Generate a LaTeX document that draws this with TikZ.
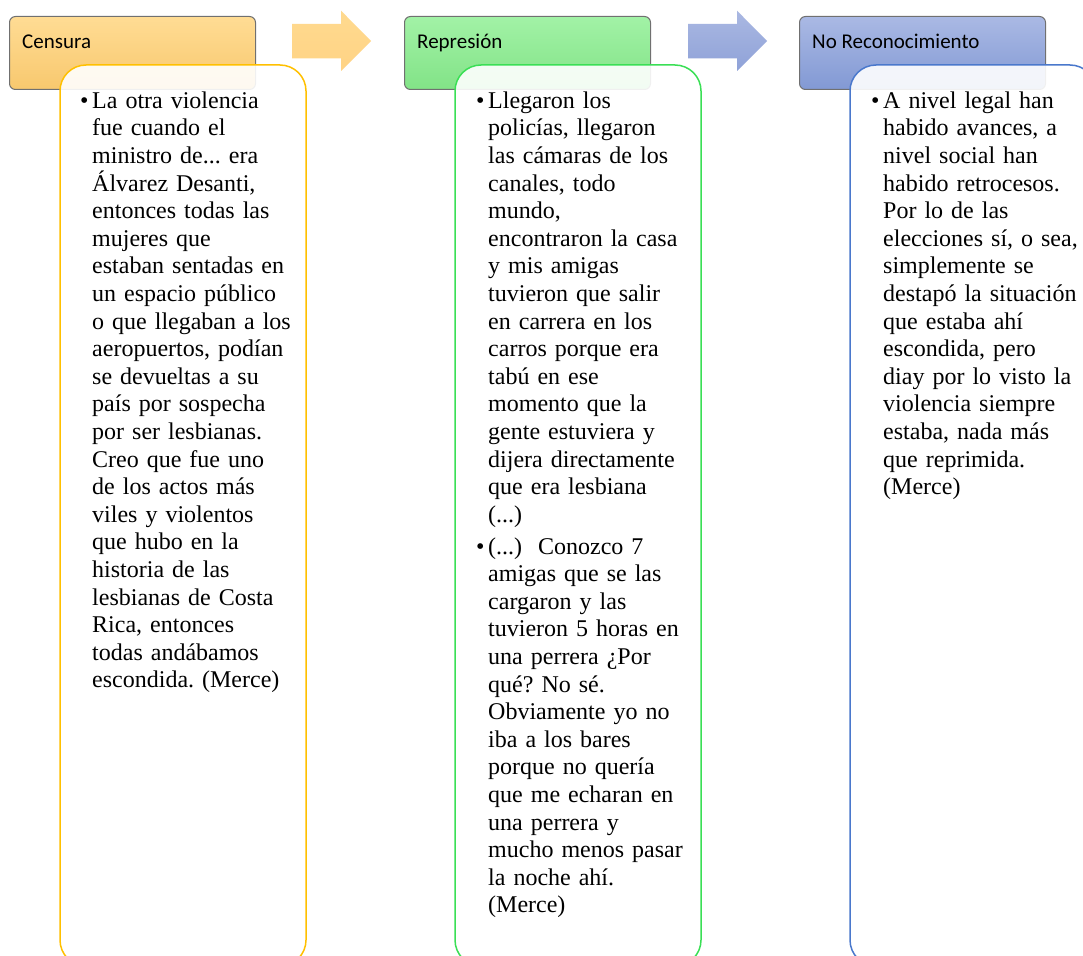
\documentclass[tikz,border=0pt]{standalone}
\usepackage{fontspec}
\setmainfont{Liberation Serif}
\newfontfamily\hdrfont{Carlito}
\frenchspacing
\definecolor{oTop}{HTML}{FFDC94}
\definecolor{oBot}{HTML}{F8C86E}
\definecolor{oArrT}{HTML}{FFDA8F}
\definecolor{oArrB}{HTML}{FFD385}
\definecolor{gTop}{HTML}{A2F2A6}
\definecolor{gBot}{HTML}{82E387}
\definecolor{bTop}{HTML}{AAB9E4}
\definecolor{bBot}{HTML}{8299D4}
\definecolor{bArrT}{HTML}{AAB8E2}
\definecolor{bArrB}{HTML}{8FA2D8}
\definecolor{oLine}{HTML}{FFC000}
\definecolor{gLine}{HTML}{3ADF55}
\definecolor{bLine}{HTML}{4A78CC}
\definecolor{hdrLine}{HTML}{707070}
\begin{document}
\begin{tikzpicture}[x=1pt,y=-1pt,
  hdr/.style={draw=hdrLine, line width=1pt, rounded corners=6pt, minimum width=246pt, minimum height=73pt, anchor=north west, inner sep=0pt},
  hdrtext/.style={font=\hdrfont\fontsize{21}{25}\selectfont, anchor=base west, inner sep=0pt},
  card/.style={line width=1.5pt, rounded corners=26pt, fill=white, fill opacity=0.9},
  arr/.style={draw=none},
  txt/.style={font=\fontsize{24}{27.6}\selectfont, anchor=base west, inner sep=0pt, text width=240pt, align=left},
  bul/.style={font=\fontsize{24}{27.6}\selectfont, anchor=base west, inner sep=0pt}
]
\useasboundingbox (0,0) rectangle (1083,955);
\clip (0,0) rectangle (1083,955);
\fill[white] (0,0) rectangle (1083,955);

% headers
\node[hdr, top color=oTop, bottom color=oBot] (h1) at (9,16) {};
\node[hdr, top color=gTop, bottom color=gBot] (h2) at (404,16) {};
\node[hdr, top color=bTop, bottom color=bBot] (h3) at (799,16) {};
\node[hdrtext] (h1t) at (22,49) {Censura};
\node[hdrtext] (h2t) at (417,49) {Represión};
\node[hdrtext] (h3t) at (812,49) {No Reconocimiento};

% arrows
\path[arr, top color=oArrT, bottom color=oArrB] (292,24) -- (341,24) -- (341,10.7) -- (371,41) -- (341,71) -- (341,58.5) -- (292,58.5) -- cycle;
\path[arr, top color=bArrT, bottom color=bArrB] (688,24) -- (737,24) -- (737,10.7) -- (767,41) -- (737,71) -- (737,58.5) -- (688,58.5) -- cycle;

% cards
\draw[card, draw=oLine] (60,65) rectangle (306,966);
\draw[card, draw=gLine] (455,65) rectangle (701,966);
\draw[card, draw=bLine] (850,65) rectangle (1096,966);

% card 1 text
\node[bul] (b1) at (80,108.3) {•};
\node[txt] (t1) at (92,108.3) {La otra violencia\\
fue cuando el\\
ministro de... era\\
Álvarez Desanti,\\
entonces todas las\\
mujeres que\\
estaban sentadas en\\
un espacio público\\
o que llegaban a los\\
aeropuertos, podían\\
se devueltas a su\\
país por sospecha\\
por ser lesbianas.\\
Creo que fue uno\\
de los actos más\\
viles y violentos\\
que hubo en la\\
historia de las\\
lesbianas de Costa\\
Rica, entonces\\
todas andábamos\\
escondida. (Merce)};

% card 2 text
\node[bul] (b2) at (476,108.3) {•};
\node[txt] (t2) at (488,108.3) {Llegaron los\\
policías, llegaron\\
las cámaras de los\\
canales, todo\\
mundo,\\
encontraron la casa\\
y mis amigas\\
tuvieron que salir\\
en carrera en los\\
carros porque era\\
tabú en ese\\
momento que la\\
gente estuviera y\\
dijera directamente\\
que era lesbiana\\
(...)};
\node[bul] (b3) at (476,554) {•};
\node[txt] (t3) at (488,554) {(...)\ \ Conozco 7\\
amigas que se las\\
cargaron y las\\
tuvieron 5 horas en\\
una perrera ¿Por\\
qué? No sé.\\
Obviamente yo no\\
iba a los bares\\
porque no quería\\
que me echaran en\\
una perrera y\\
mucho menos pasar\\
la noche ahí.\\
(Merce)};

% card 3 text
\node[bul] (b4) at (871,108.3) {•};
\node[txt] (t4) at (883,108.3) {A nivel legal han\\
habido avances, a\\
nivel social han\\
habido retrocesos.\\
Por lo de las\\
elecciones sí, o sea,\\
simplemente se\\
destapó la situación\\
que estaba ahí\\
escondida, pero\\
diay por lo visto la\\
violencia siempre\\
estaba, nada más\\
que reprimida.\\
(Merce)};
\end{tikzpicture}
\end{document}
